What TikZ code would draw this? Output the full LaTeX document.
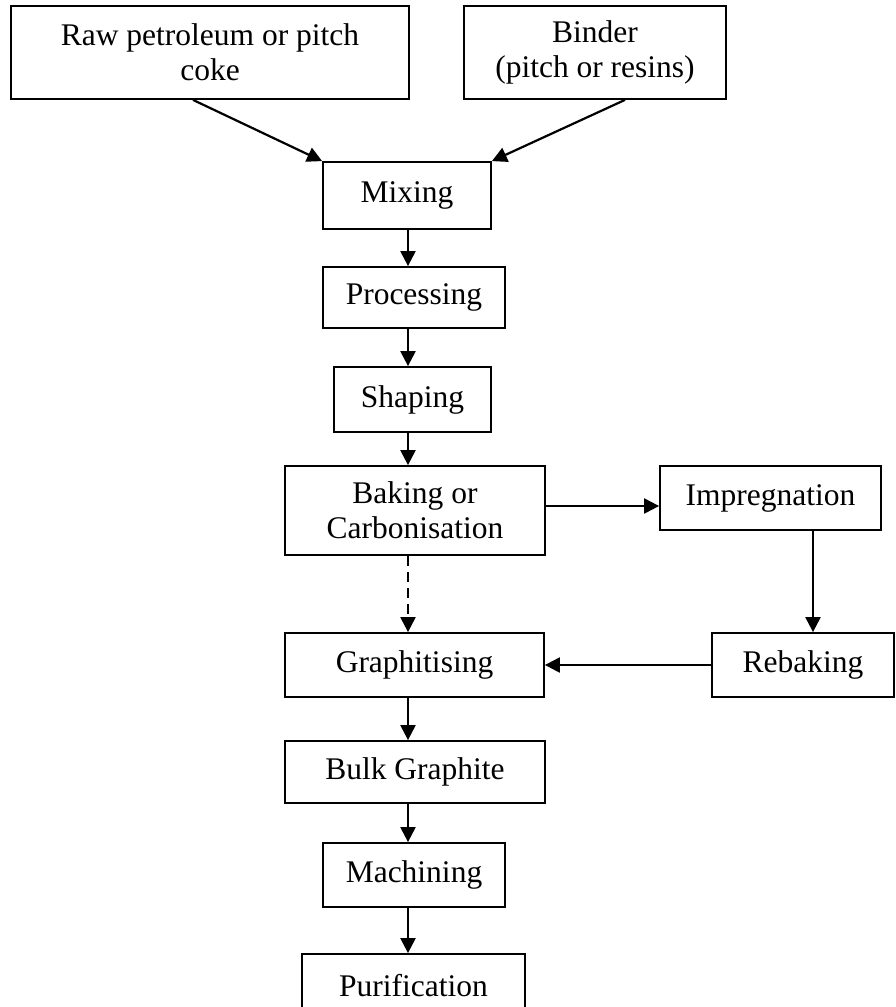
\documentclass[tikz,border=0pt]{standalone}
\usepackage{fontspec}
\setmainfont{Liberation Serif}
\usetikzlibrary{arrows.meta,calc}
\begin{document}
\begin{tikzpicture}[x=1pt,y=-1pt,
  box/.style={draw=black, line width=1.8pt, rectangle, inner sep=0pt, align=center,
    font=\fontsize{31.5}{35}\selectfont},
  conn/.style={line width=2.2pt, -{Triangle[length=15pt,width=15pt]}},
  dashconn/.style={conn, dash pattern=on 10pt off 6pt},
]
\useasboundingbox (0,0) rectangle (895,1007);
\clip (0,0) rectangle (895,1007);

\node[box, minimum width=398pt, minimum height=93pt] (raw) at (210,52.5) {Raw petroleum or pitch\\coke};
\node[box, minimum width=262pt, minimum height=93pt] (bin) at (595,52.5) {Binder\\(pitch or resins)};
\node[box, minimum width=168pt, minimum height=67pt] (mix) at (407,195.5) {Mixing};
\node[box, minimum width=182pt, minimum height=61pt] (proc) at (414,297.5) {Processing};
\node[box, minimum width=157pt, minimum height=65pt] (shp) at (412.5,399.5) {Shaping};
\node[box, minimum width=260pt, minimum height=89pt] (bak) at (415,510.5) {Baking or\\Carbonisation};
\node[box, minimum width=221pt, minimum height=64pt] (imp) at (770.5,498) {Impregnation};
\node[box, minimum width=259pt, minimum height=64pt] (gra) at (414.5,665) {Graphitising};
\node[box, minimum width=182pt, minimum height=64pt] (reb) at (803,665) {Rebaking};
\node[box, minimum width=260pt, minimum height=62pt] (bulk) at (415,772) {Bulk Graphite};
\node[box, minimum width=182pt, minimum height=64pt] (mach) at (414,875) {Machining};
\node[box, minimum width=223pt, minimum height=64pt] (pur) at (413.5,986) {Purification};

\coordinate (ax) at (408,0);
\coordinate (ix) at (813,0);
\coordinate (by) at (0,506);

\draw[conn] ($(raw.south)+(-17,0)$) -- (mix.north west);
\draw[conn] ($(bin.south)+(30,0)$) -- (mix.north east);
\draw[conn] (mix.south -| ax) -- (proc.north -| ax);
\draw[conn] (proc.south -| ax) -- (shp.north -| ax);
\draw[conn] (shp.south -| ax) -- (bak.north -| ax);
\draw[conn] (bak.east |- by) -- (imp.west |- by);
\draw[conn] (imp.south -| ix) -- (reb.north -| ix);
\draw[conn] (reb.west) -- (gra.east);
\draw[dashconn] (bak.south -| ax) -- (gra.north -| ax);
\draw[conn] (gra.south -| ax) -- (bulk.north -| ax);
\draw[conn] (bulk.south -| ax) -- (mach.north -| ax);
\draw[conn] (mach.south -| ax) -- (pur.north -| ax);
\end{tikzpicture}
\end{document}
